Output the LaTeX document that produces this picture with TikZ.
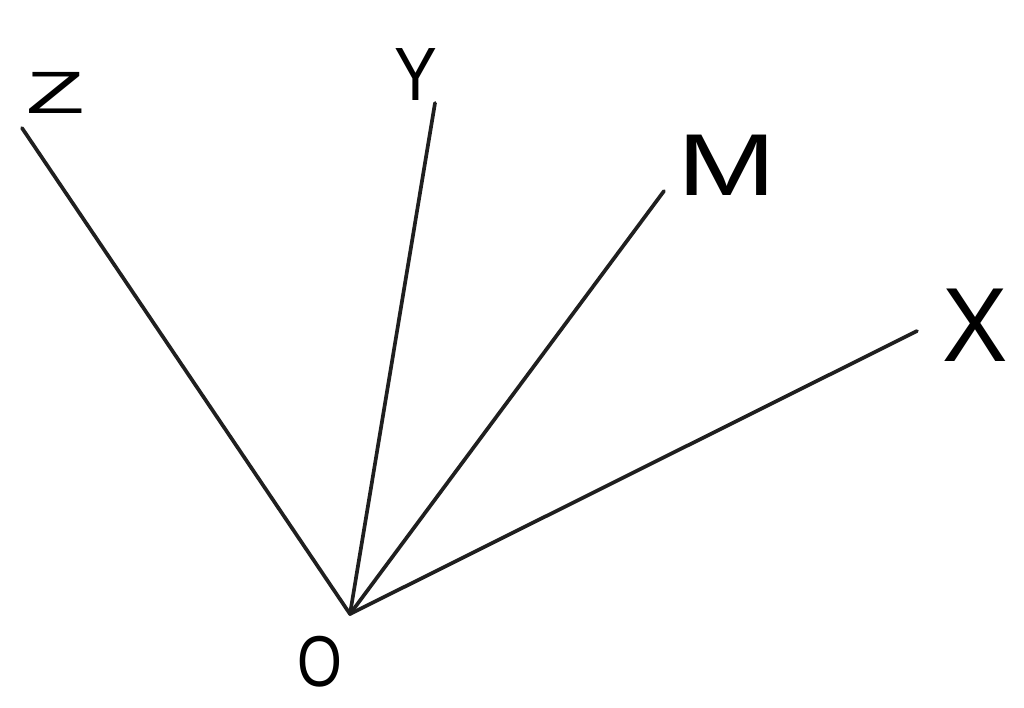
\documentclass[tikz,border=0pt]{standalone}
\usepackage{fontspec}
\setmainfont{Liberation Sans}
\begin{document}
\begin{tikzpicture}[x=0.02cm,y=-0.02cm,
  ray/.style={line width=2.1pt,color=black!88,line cap=round},
  lbl/.style={inner sep=0pt,text=black}]
\useasboundingbox (0,0) rectangle (1024,707);
\coordinate (O) at (350,614);
\coordinate (Zend) at (22,128);
\coordinate (Yend) at (435,103);
\coordinate (Mend) at (664,191);
\coordinate (Xend) at (917,331);
\draw[ray] (O) -- (Zend);
\draw[ray] (O) -- (Yend);
\draw[ray] (O) -- (Mend);
\draw[ray] (O) -- (Xend);
\node[lbl] (Olbl) at (320,662) {\scalebox{0.8}[1]{\fontsize{41}{44}\selectfont O}};
\node[lbl] (Zlbl) at (56,93) {\scalebox{1.6}[1]{\fontsize{34}{36}\selectfont Z}};
\node[lbl] (Ylbl) at (416,75) {\scalebox{0.85}[1]{\fontsize{43}{46}\selectfont Y}};
\node[lbl] (Mlbl) at (727,165) {\scalebox{1.35}[1]{\fontsize{50}{54}\selectfont M}};
\node[lbl] (Xlbl) at (975,325) {\scalebox{0.93}[1]{\fontsize{60}{64}\selectfont X}};
\end{tikzpicture}
\end{document}
